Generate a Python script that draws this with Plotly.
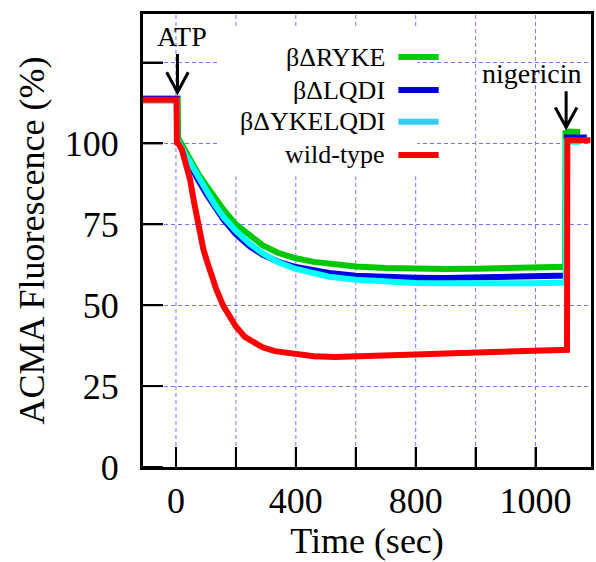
import plotly.graph_objects as go

# ---------------- data ----------------
series_names = ["βΔRYKE", "βΔLQDI", "βΔYKELQDI", "wild-type"]
line_colors = ["#00c800", "#0000e6", "#00ffff", "#ff0000"]
key_colors = ["#00cc00", "#0000cc", "#33ccff", "#ff0000"]

ryke_t = [-112, 6, 7, 25, 47, 75, 103, 130, 158, 200, 246, 290, 340, 400, 460, 511,
          600, 700, 800, 900, 1000, 1100, 1200, 1299, 1300, 1312, 1349]
ryke_v = [113.8, 113.8, 101.8, 98.6, 95.0, 90.5, 86.8, 83.0, 79.6, 75.0, 71.8, 68.5,
          66.2, 64.5, 63.4, 62.8, 62.0, 61.5, 61.2, 61.2, 61.3, 61.5, 61.8, 61.9,
          103.3, 103.7, 103.5]

lqdi_t = [-112, 3, 4, 25, 47, 75, 103, 130, 158, 200, 246, 290, 340, 400, 460, 511,
          600, 700, 800, 900, 1000, 1100, 1200, 1304, 1305, 1371]
lqdi_v = [113.8, 113.8, 101.0, 97.0, 93.5, 88.5, 84.2, 80.2, 76.5, 72.0, 68.2, 65.6,
          63.5, 61.8, 60.7, 60.0, 59.1, 58.7, 58.5, 58.4, 58.5, 58.7, 58.9, 59.2,
          101.8, 101.8]

ykelqdi_t = [-112, 3, 4, 25, 47, 75, 103, 130, 158, 200, 246, 290, 340, 400, 460, 511,
             600, 700, 800, 900, 1000, 1100, 1200, 1301, 1302, 1349]
ykelqdi_v = [113.2, 113.2, 101.0, 97.5, 94.0, 89.2, 85.2, 81.0, 77.3, 73.0, 69.0, 66.0,
             63.3, 61.2, 59.8, 58.8, 57.9, 57.3, 56.9, 56.8, 56.7, 56.7, 56.8, 57.0,
             100.5, 100.5]

wt_t = [-112, 2, 3, 10, 20, 30, 47, 60, 69, 79, 91, 102, 115, 135, 158, 180, 200, 230,
        260, 289, 330, 400, 460, 530, 600, 700, 800, 900, 1000, 1100, 1200, 1305, 1306, 1383]
wt_v = [113.5, 113.5, 100.2, 99.7, 98.0, 94.6, 88.9, 82.0, 77.5, 73.2, 67.5, 64.0, 60.0,
        54.8, 49.8, 46.3, 43.4, 40.2, 38.3, 37.0, 35.8, 34.7, 34.2, 34.0, 34.1, 34.4,
        34.8, 35.1, 35.4, 35.7, 36.0, 36.2, 101.0, 101.0]

series_t = [ryke_t, lqdi_t, ykelqdi_t, wt_t]
series_v = [ryke_v, lqdi_v, ykelqdi_v, wt_v]

x_tickvals = [0, 200, 400, 600, 800, 1000, 1200]
x_ticktext = ["0", "", "400", "", "800", "", "1000"]
y_tickvals = [0, 25, 50, 75, 100, 125]
y_ticktext = ["0", "25", "50", "75", "100", ""]

atp_time = 5
nigericin_time = 1302

# ---------------- figure ----------------
FONT = "Liberation Serif, Times New Roman, serif"
GRID_COLOR = "#7474ff"
fig = go.Figure()
for name, t, v, c in zip(series_names, series_t, series_v, line_colors):
    fig.add_trace(go.Scatter(x=t, y=v, mode="lines", name=name,
                             line=dict(color=c, width=6), showlegend=False))

fig.update_xaxes(range=[-110, 1385], tickmode="array", tickvals=x_tickvals,
                 ticktext=x_ticktext, ticks="inside", ticklen=20, tickwidth=2,
                 tickcolor="black", showline=True, linecolor="black", linewidth=3,
                 mirror=True, zeroline=False, showgrid=False,
                 title=dict(text="Time (sec)",
                            font=dict(size=36, family=FONT, color="black"), standoff=4),
                 tickfont=dict(size=36, family=FONT, color="black"))
fig.update_yaxes(range=[0, 140], tickmode="array", tickvals=y_tickvals,
                 ticktext=y_ticktext, ticks="inside", ticklen=20, tickwidth=2,
                 tickcolor="black", showline=True, linecolor="black", linewidth=3,
                 mirror=True, zeroline=False, ticklabelstandoff=14,
                 showgrid=True, gridcolor=GRID_COLOR, gridwidth=1, griddash="4px,3px",
                 title=dict(text="ACMA Fluorescence (%)",
                            font=dict(size=36, family=FONT, color="black"), standoff=10),
                 tickfont=dict(size=36, family=FONT, color="black"))

shapes = []
annotations = []

# vertical grid lines and tick marks (drawn as shapes so they always render)
for xv in x_tickvals:
    shapes.append(dict(type="line", xref="x", yref="paper", x0=xv, x1=xv, y0=0, y1=1,
                       line=dict(color=GRID_COLOR, width=1, dash="4px,3px"), layer="below"))
for xv in x_tickvals:
    shapes.append(dict(type="line", xref="x", yref="paper", x0=xv, x1=xv, y0=0,
                       y1=20 / 453, line=dict(color="black", width=2), layer="above"))
for yv in y_tickvals:
    shapes.append(dict(type="line", xref="paper", yref="y", x0=0, x1=20 / 451, y0=yv,
                       y1=yv, line=dict(color="black", width=2), layer="above"))

# opaque key box (hides the grid like the original key)
shapes.append(dict(type="rect", xref="paper", yref="paper", x0=0.167, x1=0.612,
                   y0=0.642, y1=0.969, fillcolor="white", line=dict(width=0),
                   layer="above"))
key_y = [0.905, 0.832, 0.762, 0.689]
for name, c, ky in zip(series_names, key_colors, key_y):
    shapes.append(dict(type="line", xref="paper", yref="paper", x0=0.570, x1=0.660,
                       y0=ky, y1=ky, line=dict(color=c, width=6), layer="above"))
    annotations.append(dict(text=name, xref="paper", yref="paper", x=0.545, y=ky,
                            xanchor="right", yanchor="middle", showarrow=False,
                            font=dict(size=26, family=FONT, color="black")))

# event arrows
def arrow(t, top, tip, wing, half):
    return dict(type="path", xref="x", yref="y",
                path=f"M {t},{top} L {t},{tip} M {t-half},{wing} L {t},{tip} L {t+half},{wing}",
                line=dict(color="black", width=3), layer="above")

shapes.append(arrow(atp_time, 127.6, 115.8, 122.0, 36))
shapes.append(arrow(nigericin_time, 116.1, 105.0, 111.1, 36))
annotations.append(dict(text="ATP", xref="paper", yref="paper", x=0.087, y=0.95,
                        xanchor="center", yanchor="middle", showarrow=False,
                        font=dict(size=28, family=FONT, color="black")))
annotations.append(dict(text="nigericin", xref="paper", yref="paper", x=0.869, y=0.868,
                        xanchor="center", yanchor="middle", showarrow=False,
                        font=dict(size=28, family=FONT, color="black")))

fig.update_layout(width=596, height=562, margin=dict(l=143, r=2, t=14, b=95),
                  paper_bgcolor="white", plot_bgcolor="white",
                  shapes=shapes, annotations=annotations, showlegend=False)

fig.write_html("out.html", config={"displayModeBar": False},
               post_script="document.body.style.margin='0';document.body.style.overflow='hidden';")
